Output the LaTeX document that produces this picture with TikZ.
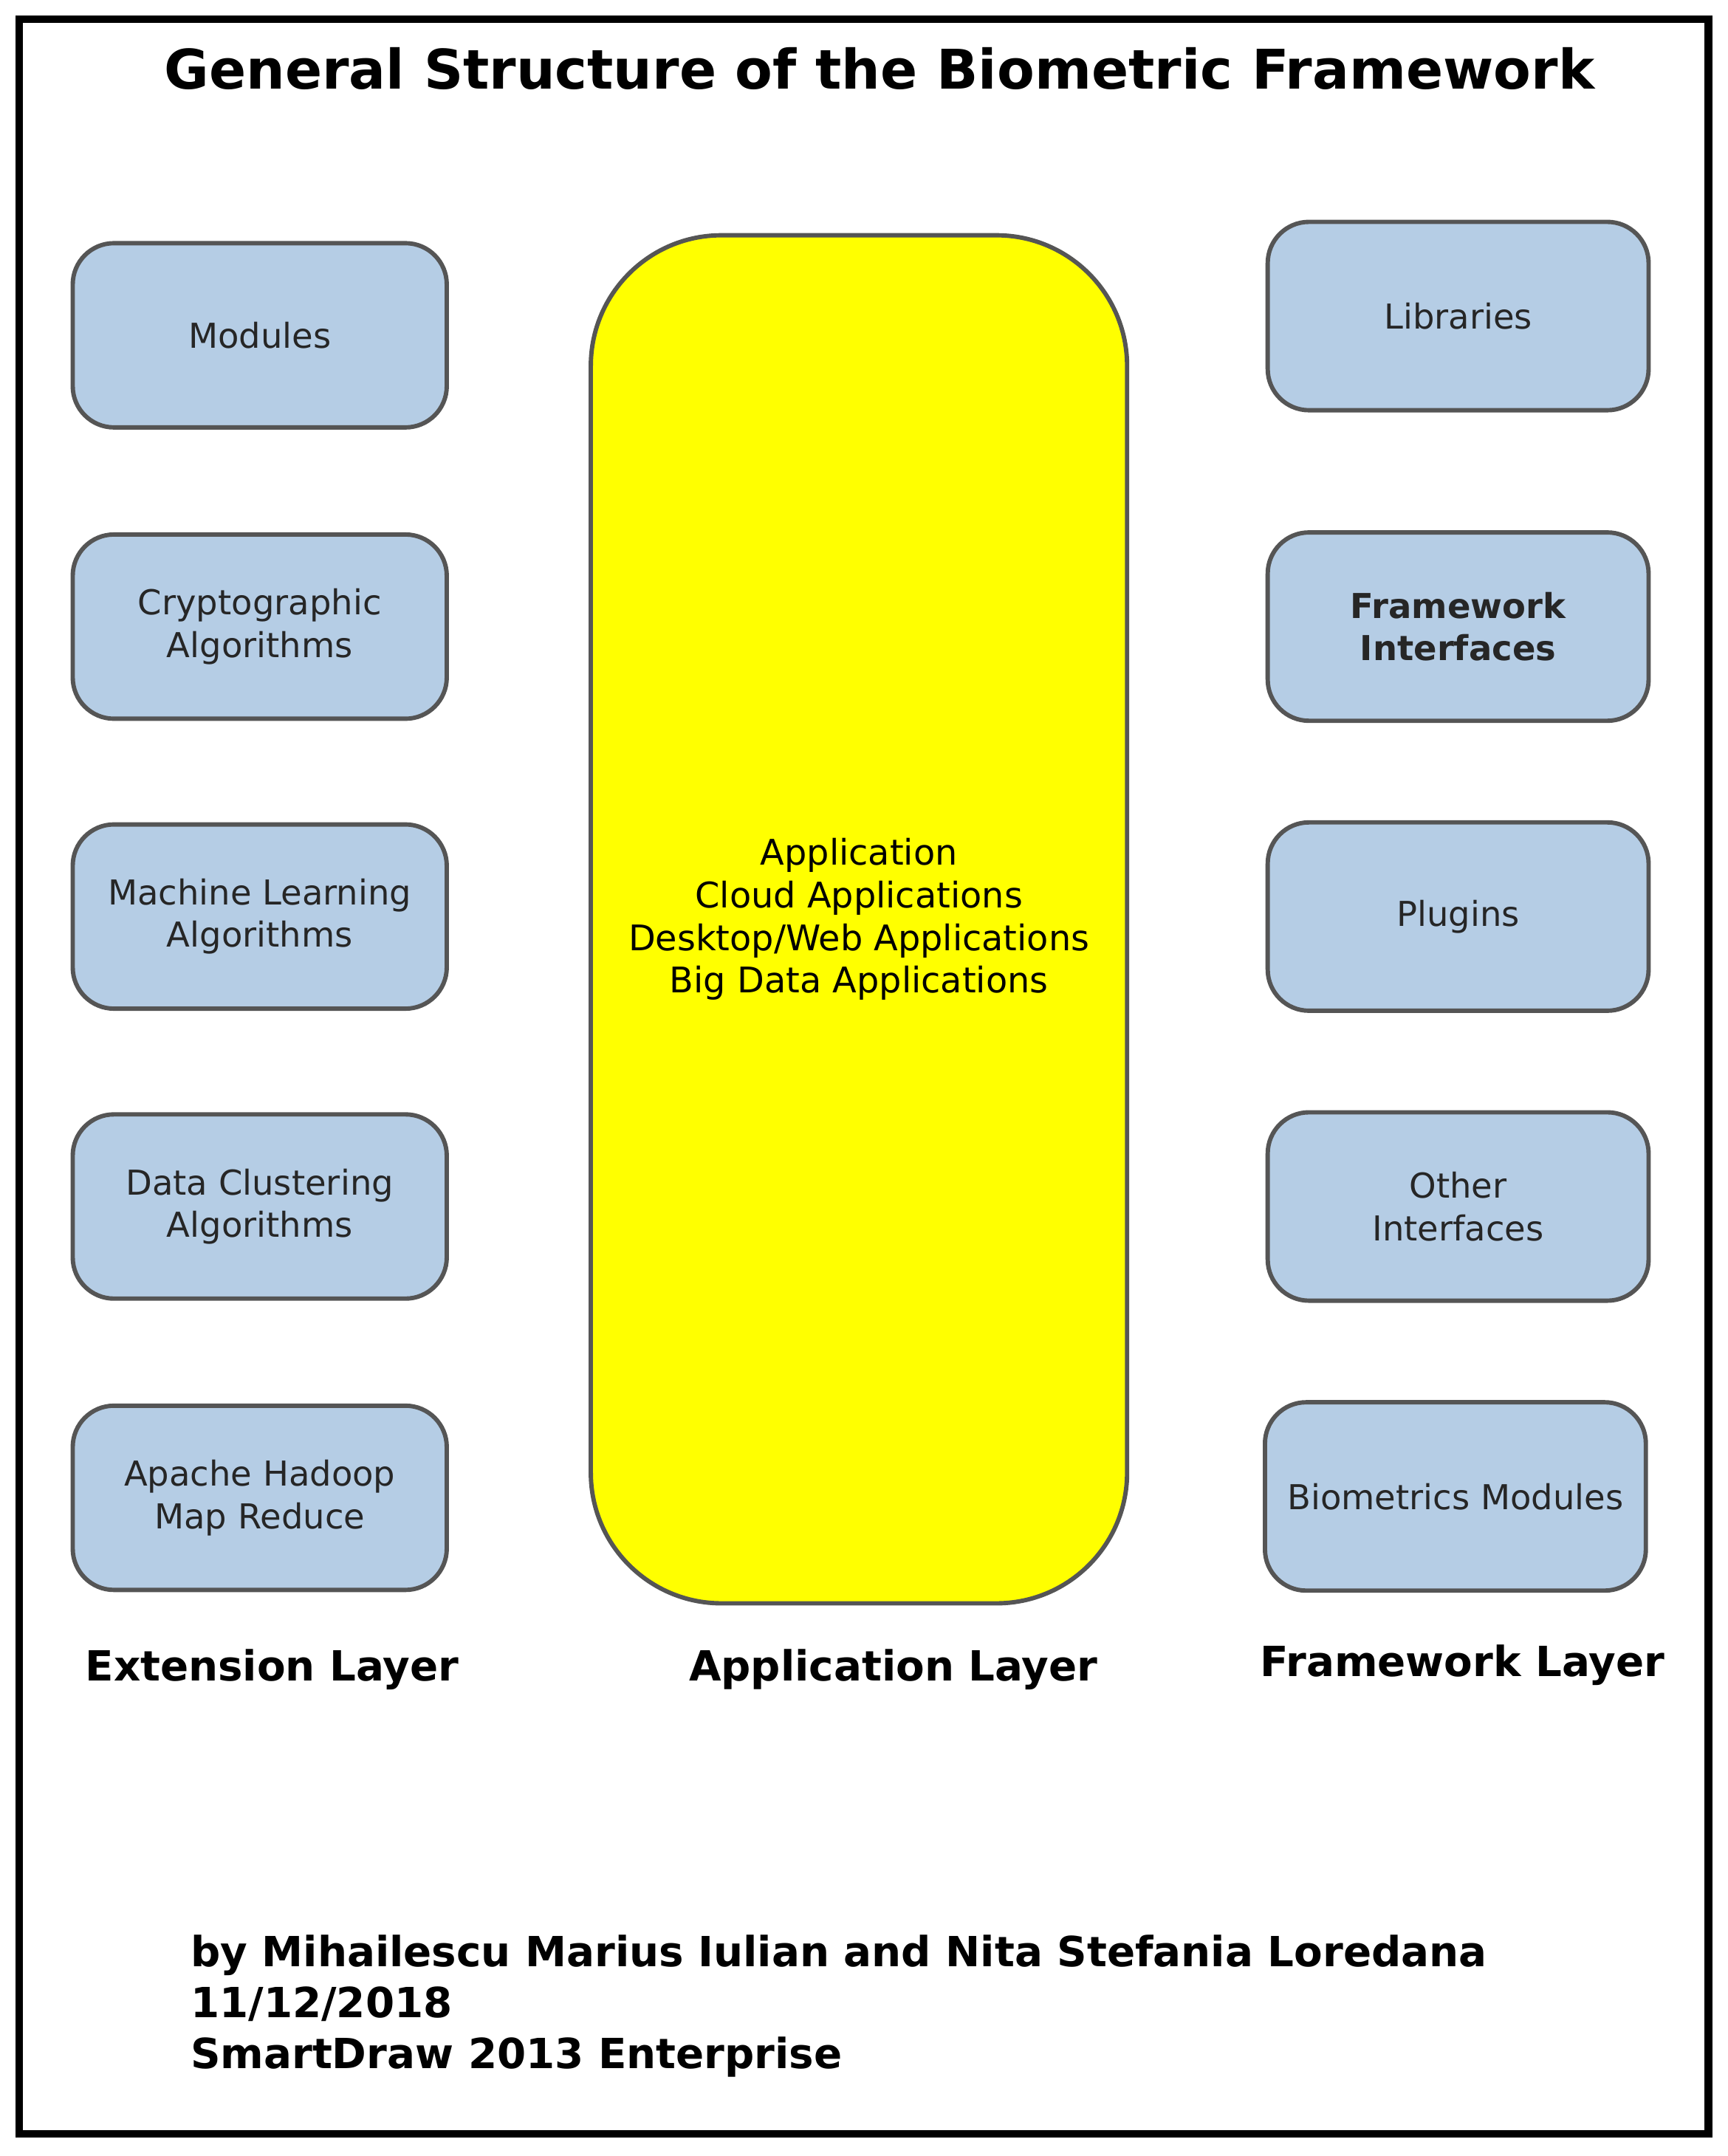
\documentclass[tikz,border=0pt]{standalone}
\usepackage{fontspec}
\setmainfont{DejaVu Sans}
\definecolor{boxblue}{HTML}{B5CDE5}
\definecolor{boxline}{HTML}{555555}
\definecolor{appyellow}{HTML}{FFFF00}
\begin{document}
\begin{tikzpicture}[x=0.01cm, y=-0.01cm,
  block/.style={draw=boxline, line width=0.9pt, fill=boxblue, rounded corners=0.3cm,
    minimum width=2.72cm, minimum height=1.34cm, align=center, font=\fontsize{7.1}{8.8}\selectfont, text=black!85},
  layer/.style={font=\bfseries\fontsize{8.6}{10}\selectfont},
  every node/.style={inner sep=0pt}]
  \useasboundingbox (0,0) rectangle (1257,1569);
  \draw [line width=1.6pt] (14,14) rectangle (1243,1553);
  \node (title) at (640,50) {\bfseries\fontsize{11.3}{13}\selectfont General Structure of the Biometric Framework};
  % extension layer
  \node [block] (modules) at (189,244) {Modules};
  \node [block] (crypto) at (189,456) {Cryptographic\\Algorithms};
  \node [block] (ml) at (189,667) {Machine Learning\\Algorithms};
  \node [block] (cluster) at (189,878) {Data Clustering\\Algorithms};
  \node [block] (hadoop) at (189,1090) {Apache Hadoop\\Map Reduce};
  % application layer
  \node [draw=boxline, line width=0.9pt, fill=appyellow, rounded corners=0.95cm,
    minimum width=3.9cm, minimum height=9.95cm, align=center,
    font=\fontsize{7.3}{8.8}\selectfont] (app) at (625,669)
    {Application\\Cloud Applications\\Desktop/Web Applications\\Big Data Applications};
  % framework layer
  \node [block, minimum width=2.77cm, minimum height=1.37cm] (libs) at (1061,230) {Libraries};
  \node [block, minimum width=2.77cm, minimum height=1.37cm, font=\bfseries\fontsize{7.1}{8.8}\selectfont] (fwint) at (1061,456) {Framework\\Interfaces};
  \node [block, minimum width=2.77cm, minimum height=1.37cm] (plugins) at (1061,667) {Plugins};
  \node [block, minimum width=2.77cm, minimum height=1.37cm] (other) at (1061,878) {Other\\Interfaces};
  \node [block, minimum width=2.77cm, minimum height=1.37cm] (biomod) at (1059,1089) {Biometrics Modules};
  \node [layer] (extlayer) at (198,1215) {Extension Layer};
  \node [layer] (applayer) at (650,1215) {Application Layer};
  \node [layer] (fwlayer) at (1064,1212) {Framework Layer};
  \node [layer, anchor=west, align=left, font=\bfseries\fontsize{8.6}{10.5}\selectfont] (credits) at (138,1460)
    {by Mihailescu Marius Iulian and Nita Stefania Loredana\\11/12/2018\\SmartDraw 2013 Enterprise};
\end{tikzpicture}
\end{document}
